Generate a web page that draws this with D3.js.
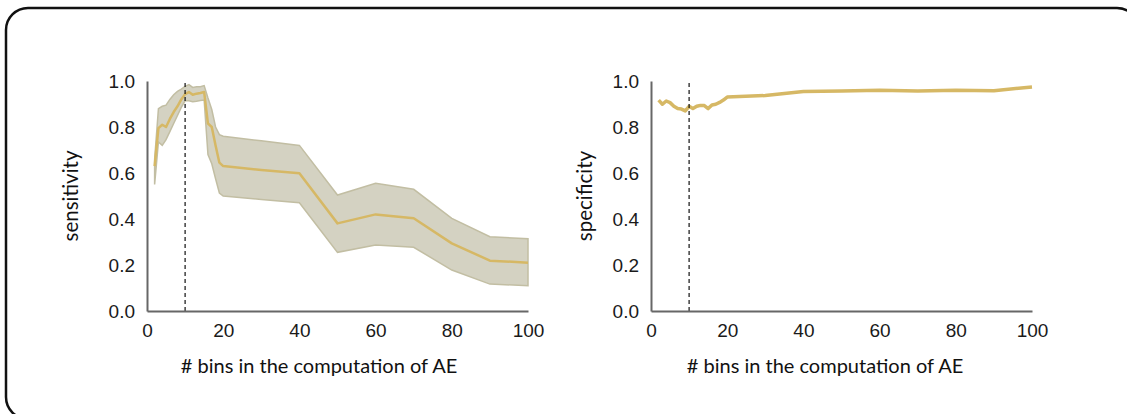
<!DOCTYPE html>
<html>
<head>
<meta charset="utf-8">
<script src="https://cdn.jsdelivr.net/npm/d3@7"></script>
<style>
	body { margin: 0; background: #fff; }
	svg { display: block; }
</style>
</head>
<body>
<svg id="chart" width="1127" height="414"></svg>
<script>
// number of bins used for each point
var bins = [2, 3, 4, 5, 6, 7, 8, 9, 10, 11, 12, 13, 14, 15, 16, 17, 18, 19, 20,
	30, 40, 50, 60, 70, 80, 90, 100]

// sensitivity (mean and band)
var sensMean = [0.63, 0.795, 0.81, 0.80, 0.835, 0.865, 0.89, 0.92, 0.943, 0.952, 0.94, 0.945, 0.948, 0.952,
	0.815, 0.80, 0.72, 0.645, 0.63, 0.613, 0.599, 0.381, 0.42, 0.403, 0.294, 0.219, 0.21]
var sensUpper = [0.66, 0.88, 0.89, 0.895, 0.92, 0.94, 0.955, 0.965, 0.977, 0.984, 0.972, 0.975, 0.975, 0.98,
	0.926, 0.876, 0.80, 0.767, 0.76, 0.74, 0.72, 0.504, 0.555, 0.529, 0.403, 0.323, 0.314]
var sensLower = [0.55, 0.735, 0.72, 0.745, 0.78, 0.815, 0.85, 0.885, 0.914, 0.914, 0.91, 0.912, 0.915, 0.917,
	0.68, 0.64, 0.575, 0.513, 0.50, 0.485, 0.471, 0.255, 0.287, 0.277, 0.178, 0.117, 0.11]

// specificity
var specMean = [0.917, 0.899, 0.913, 0.906, 0.89, 0.88, 0.878, 0.87, 0.89, 0.88, 0.89, 0.894, 0.893, 0.88,
	0.896, 0.899, 0.907, 0.917, 0.93, 0.937, 0.954, 0.957, 0.96, 0.957, 0.96, 0.958, 0.974]

var xTicks = [0, 20, 40, 60, 80, 100]
var yTicks = [0, 0.2, 0.4, 0.6, 0.8, 1.0]
var chosenBins = 10
var xTitle = '# bins in the computation of AE'

var lineColor = '#d6b865'
var bandColor = '#d4d2c2'
var bandEdge = '#c2bea3'
var axisColor = '#676767'
var tickFont = '"Liberation Sans", Arial, sans-serif'
var titleFont = 'Lato, "Open Sans", sans-serif'

var svg = d3.select('#chart')

// frame round the whole figure
svg.append('rect')
	.attr('x', 6)
	.attr('y', 8)
	.attr('width', 1133)
	.attr('height', 411)
	.attr('rx', 22)
	.attr('fill', 'none')
	.attr('stroke', '#111')
	.attr('stroke-width', 2.5)

function drawPanel(opts) {
	var x = d3.scaleLinear().domain([0, 100]).range([opts.left, opts.left + 381])
	var y = d3.scaleLinear().domain([0, 1]).range([311, 81])
	var g = svg.append('g')

	if (opts.lower) {
		var area = d3.area()
			.x(function(d, i) { return x(bins[i]) })
			.y0(function(d, i) { return y(opts.lower[i]) })
			.y1(function(d, i) { return y(opts.upper[i]) })
		g.append('path')
			.datum(bins)
			.attr('d', area)
			.attr('fill', bandColor)
			.attr('stroke', bandEdge)
			.attr('stroke-width', 1.5)
	}

	var line = d3.line()
		.x(function(d, i) { return x(bins[i]) })
		.y(function(d) { return y(d) })
	g.append('path')
		.datum(opts.mean)
		.attr('d', line)
		.attr('fill', 'none')
		.attr('stroke', lineColor)
		.attr('stroke-width', opts.width)
		.attr('stroke-linejoin', 'round')

	// chosen number of bins
	g.append('line')
		.attr('x1', x(chosenBins)).attr('x2', x(chosenBins))
		.attr('y1', y(0)).attr('y2', y(1))
		.attr('stroke', '#111')
		.attr('stroke-width', 1.2)
		.attr('stroke-dasharray', '4,3')

	var xAxis = g.append('g')
		.attr('transform', 'translate(0,' + y(0) + ')')
		.call(d3.axisBottom(x).tickValues(xTicks).tickSize(0).tickPadding(13).tickFormat(d3.format('d')))
	var yAxis = g.append('g')
		.attr('transform', 'translate(' + x(0) + ',0)')
		.call(d3.axisLeft(y).tickValues(yTicks).tickSize(0).tickPadding(12).tickFormat(d3.format('.1f')))

	;[xAxis, yAxis].forEach(function(a) {
		a.select('.domain').attr('stroke', axisColor).attr('stroke-width', 2)
		a.selectAll('text')
			.attr('font-family', tickFont)
			.attr('font-size', 19)
			.attr('fill', '#1a1a1a')
	})

	g.append('text')
		.attr('x', opts.titleX)
		.attr('y', 373)
		.attr('text-anchor', 'middle')
		.attr('font-family', titleFont)
		.attr('font-size', 20)
		.attr('fill', '#111')
		.text(xTitle)

	g.append('text')
		.attr('transform', 'translate(' + opts.labelX + ',196) rotate(-90)')
		.attr('text-anchor', 'middle')
		.attr('font-family', titleFont)
		.attr('font-size', 20.5)
		.attr('fill', '#111')
		.text(opts.label)
}

drawPanel({ left: 147, mean: sensMean, upper: sensUpper, lower: sensLower, width: 2.5,
	titleX: 319, labelX: 78, label: 'sensitivity' })
drawPanel({ left: 651, mean: specMean, width: 3.5,
	titleX: 825, labelX: 592, label: 'specificity' })
</script>
</body>
</html>
